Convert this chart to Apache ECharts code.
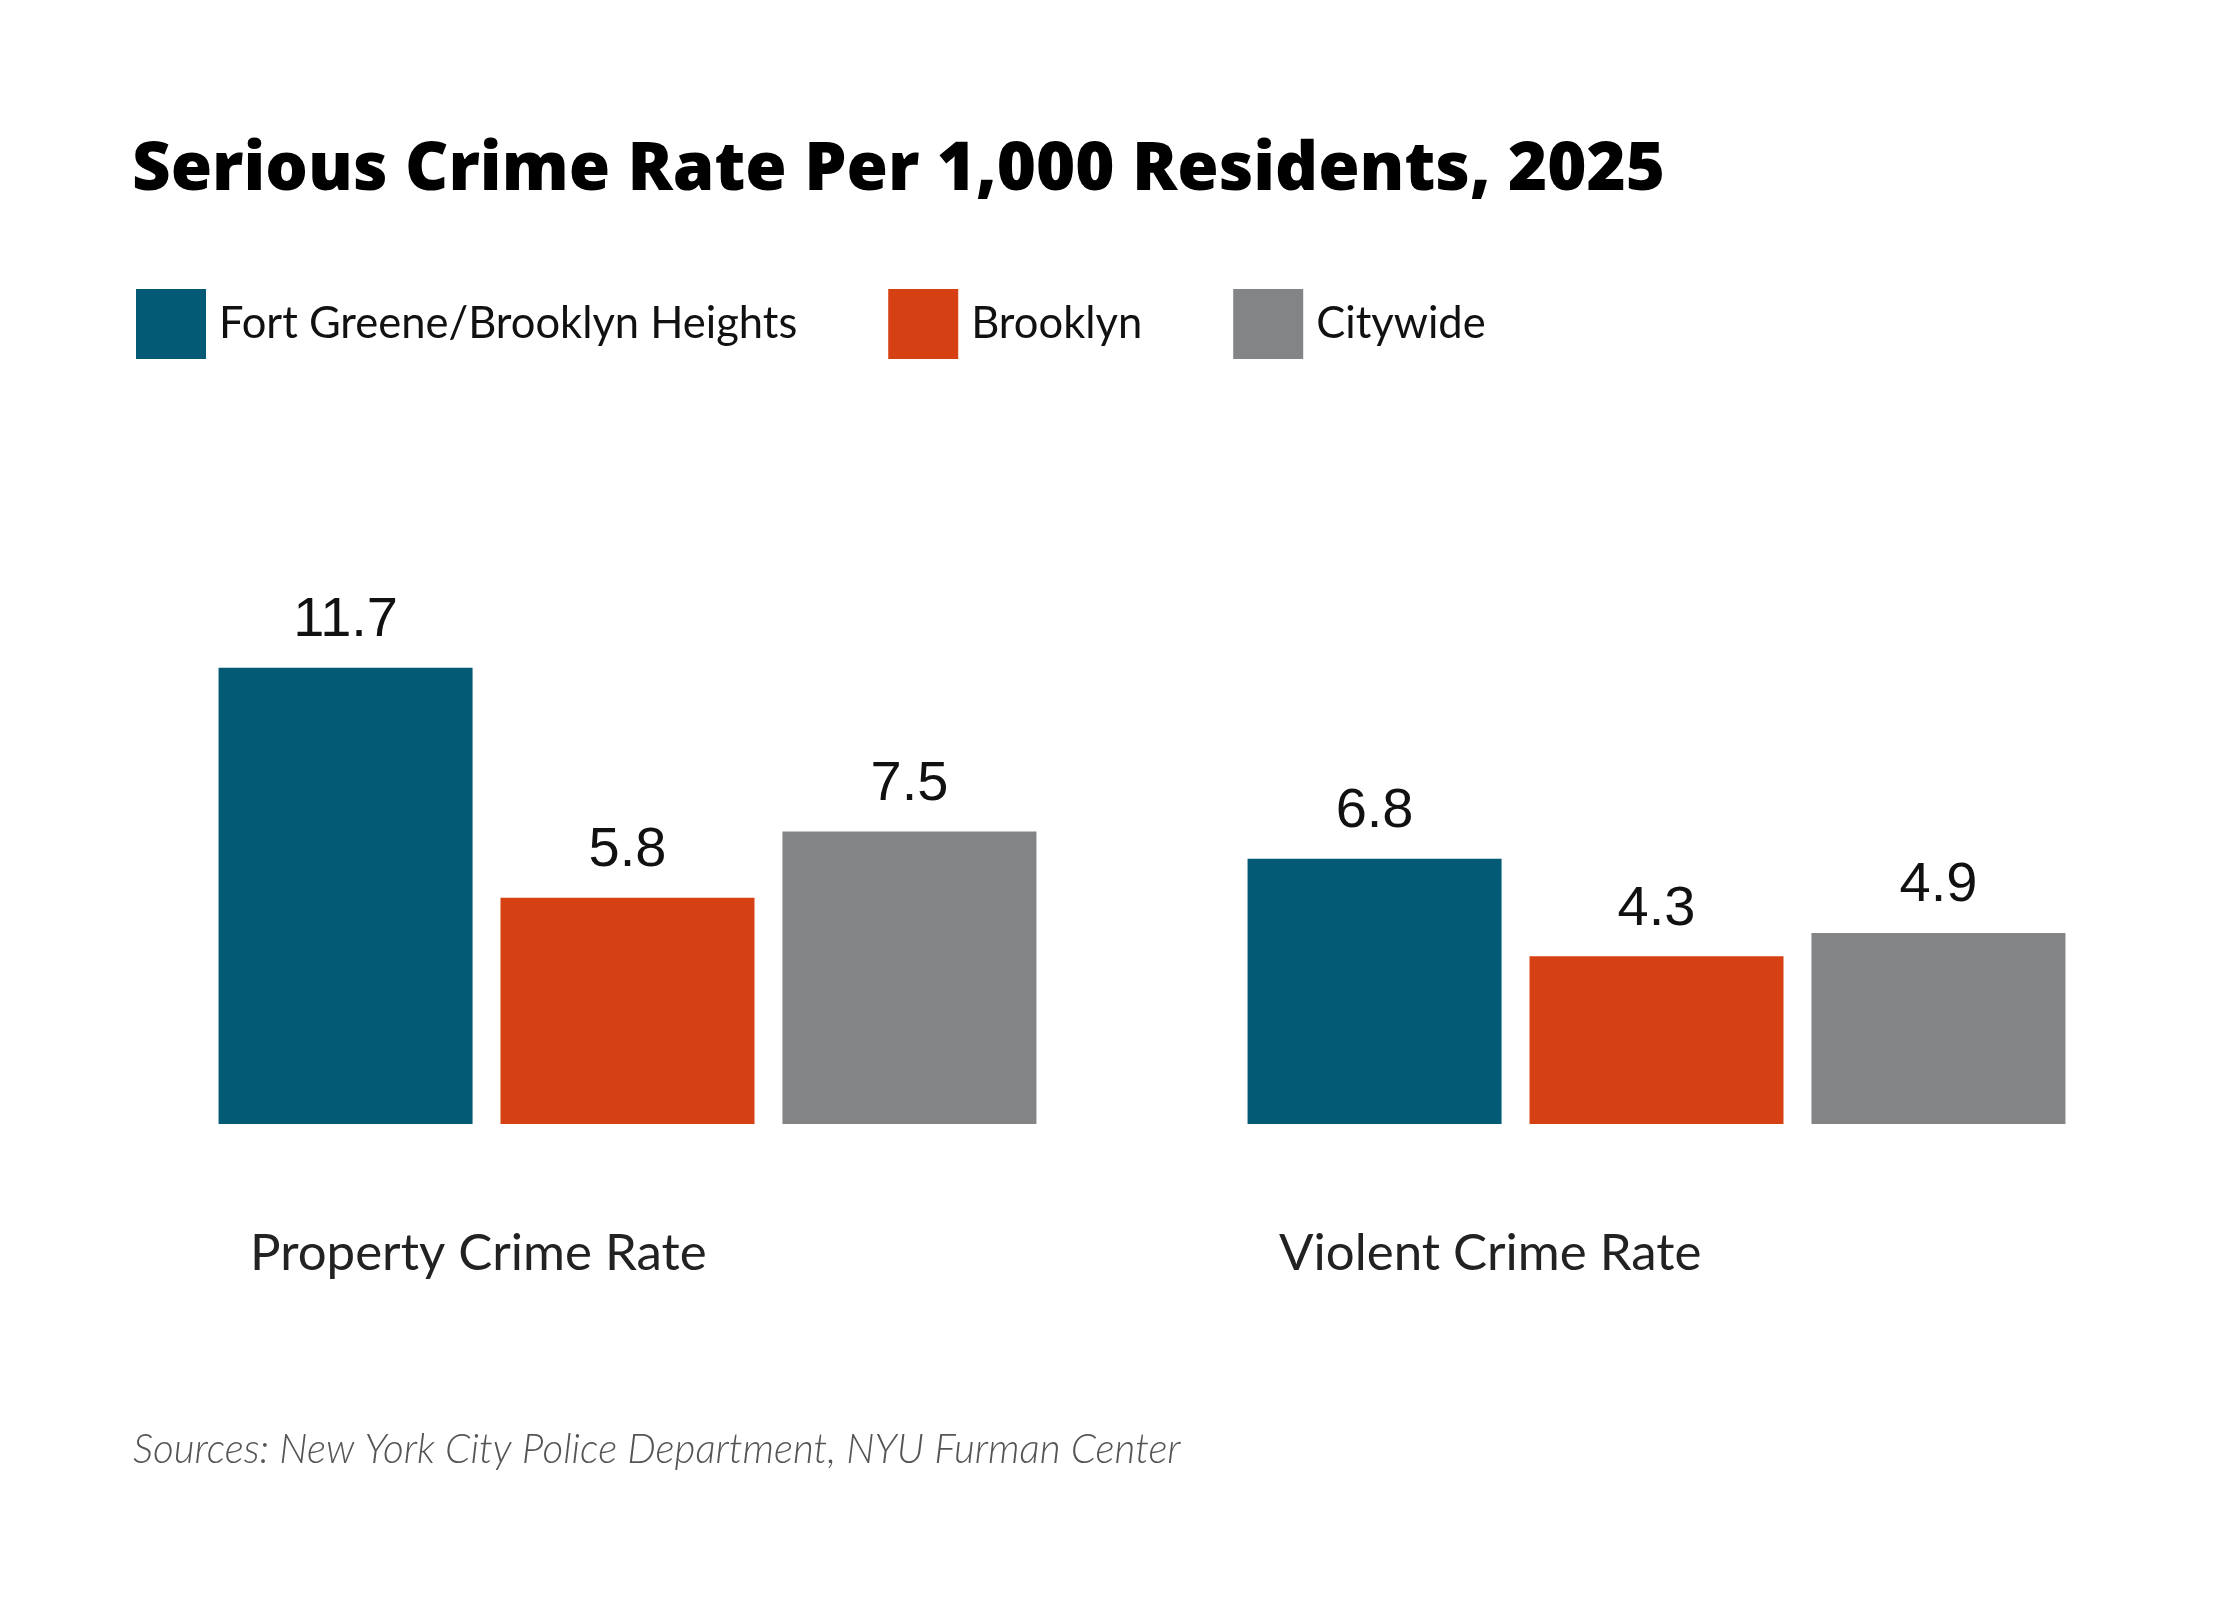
<!DOCTYPE html>
<html>
<head>
<meta charset="utf-8">
<script src="https://cdn.jsdelivr.net/npm/echarts@6/dist/echarts.min.js"></script>
<style>
html,body{margin:0;padding:0;background:#fff;}
#chart{width:2240px;height:1600px;}
</style>
</head>
<body>
<div id="chart"></div>
<script>
const categories = ['Property Crime Rate', 'Violent Crime Rate'];
const seriesNames = ['Fort Greene/Brooklyn Heights', 'Brooklyn', 'Citywide'];
const fortGreene = [11.7, 6.8];
const brooklyn = [5.8, 4.3];
const citywide = [7.5, 4.9];
const colors = ['#025A74', '#D64114', '#838486'];

const chart = echarts.init(document.getElementById('chart'), null, {renderer: 'canvas'});
const valueLabel = {
  show: true, position: 'top', distance: 19,
  fontFamily: 'Liberation Sans, Arial, sans-serif', fontSize: 56, lineHeight: 56, color: '#111'
};
chart.setOption({
  backgroundColor: '#ffffff',
  animation: false,
  title: [
    {
      text: 'Serious Crime Rate Per 1,000 Residents, 2025',
      left: 132, top: 137, padding: 0,
      textStyle: {fontFamily: 'Open Sans', fontWeight: 800, fontSize: 67, lineHeight: 67, color: '#000'}
    },
    {
      text: 'Sources: New York City Police Department, NYU Furman Center',
      left: 133, top: 1430, padding: 0,
      textStyle: {fontFamily: 'Lato', fontStyle: 'italic', fontWeight: 300, fontSize: 40.4, lineHeight: 40, color: '#555'}
    }
  ],
  legend: {
    left: 136, top: 289, padding: 0,
    itemWidth: 70, itemHeight: 70, itemGap: 91,
    icon: 'rect',
    data: seriesNames,
    textStyle: {fontFamily: 'Lato', fontSize: 43.5, color: '#111', padding: [0, 0, 0, 8]}
  },
  grid: {left: 113, right: 69, top: 539, bottom: 476, containLabel: false},
  xAxis: {
    type: 'category',
    data: categories,
    axisLine: {show: false},
    axisTick: {show: false},
    axisLabel: {
      margin: 104,
      formatter: v => '{a|' + v + '}',
      rich: {a: {width: 755, align: 'left', fontFamily: 'Lato', fontSize: 51, lineHeight: 51, color: '#222'}}
    }
  },
  yAxis: {
    type: 'value', min: 0, max: 15, show: false,
    splitLine: {show: false}
  },
  series: [
    {name: seriesNames[0], type: 'bar', data: fortGreene, barWidth: 254, barGap: '11%', itemStyle: {color: colors[0]}, label: valueLabel},
    {name: seriesNames[1], type: 'bar', data: brooklyn, barWidth: 254, barGap: '11%', itemStyle: {color: colors[1]}, label: valueLabel},
    {name: seriesNames[2], type: 'bar', data: citywide, barWidth: 254, barGap: '11%', itemStyle: {color: colors[2]}, label: valueLabel}
  ]
});
</script>
</body>
</html>
